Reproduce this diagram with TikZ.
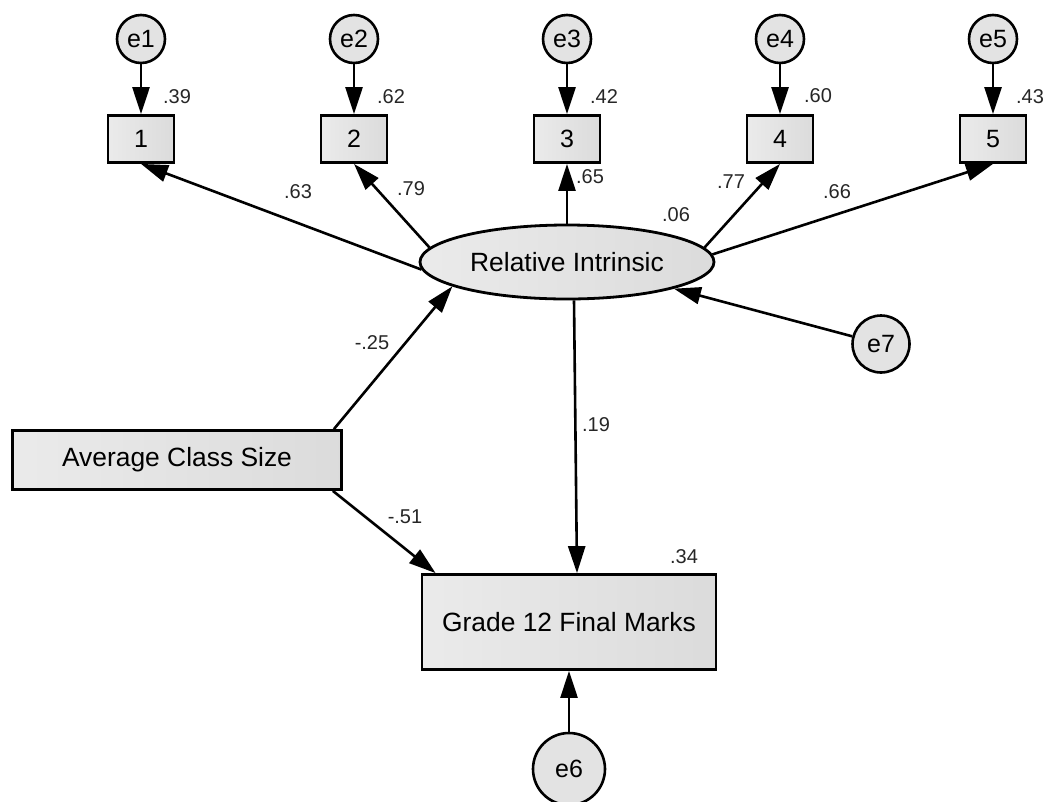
\documentclass[tikz,border=0pt]{standalone}
\usepackage{fontspec}
\setmainfont{Liberation Sans}
\usetikzlibrary{arrows.meta,shapes.geometric}

\begin{document}
\begin{tikzpicture}[x=1pt,y=-1pt,
  obs/.style={draw,line width=2.8pt,rectangle,inner sep=0pt,left color=black!8,right color=black!14,font=\fontsize{26.4}{30}\selectfont},
  lat/.style={draw,line width=2.8pt,ellipse,inner sep=0pt,left color=black!8,right color=black!14,minimum width=294pt,minimum height=74pt,font=\fontsize{26.4}{30}\selectfont},
  err/.style={draw,line width=2.6pt,circle,inner sep=0pt,fill=black!11,font=\fontsize{25}{30}\selectfont},
  coef/.style={inner sep=0pt,font=\fontsize{20}{24}\selectfont,text=black!85},
  arr/.style={-{Triangle[length=27pt,width=17pt]},line width=2.6pt}]
\useasboundingbox (0,0) rectangle (1048,801);
% indicators and their errors
\foreach \i/\x in {1/141,2/354,3/567,4/780,5/993}{
  \node[err,minimum size=48pt] (e\i) at (\x,39) {e\i};
  \node[obs,minimum width=66pt,minimum height=47pt,font=\fontsize{25}{30}\selectfont] (b\i) at (\x,139) {\i};
  \draw[arr] (e\i)--(b\i);
}
\node[coef] (r1) at (177,97) {.39};
\node[coef] (r2) at (391,97) {.62};
\node[coef] (r3) at (604,97) {.42};
\node[coef] (r4) at (818,96) {.60};
\node[coef] (r5) at (1030,97) {.43};
% latent factor
\node[lat] (ri) at (567,262) {Relative Intrinsic};
\node[err,minimum size=57pt] (e7) at (881,344) {e7};
\node[obs,minimum width=329pt,minimum height=59pt] (acs) at (177,460) {Average Class Size};
\node[obs,minimum width=294pt,minimum height=95pt] (gfm) at (569,622) {Grade 12 Final Marks};
\node[err,minimum size=72pt] (e6) at (569,769) {e6};
% loadings
\draw[arr] (ri.183)--(b1.south);
\draw[arr] (ri.174)--(b2.south);
\draw[arr] (ri.north)--(b3.south);
\draw[arr] (ri.6)--(b4.south);
\draw[arr] (ri.3)--(b5.south);
\node[coef] (l1) at (298,192) {.63};
\node[coef] (l2) at (411,189) {.79};
\node[coef] (l3) at (590,177) {.65};
\node[coef] (l4) at (731,182) {.77};
\node[coef] (l5) at (837,192) {.66};
\node[coef] (rri) at (676,215) {.06};
% structural paths
\draw[arr] (e7)--(ri.-14);
\draw[arr] ([xshift=-9pt]acs.north east)--(ri.192);
\draw[arr] ([xshift=-10pt]acs.south east)--([xshift=15pt]gfm.north west);
\draw[arr] ([xshift=7pt]ri.south)--([xshift=8pt]gfm.north);
\draw[arr] (e6)--(gfm.south);
\node[coef] (p1) at (372,343) {-.25};
\node[coef] (p2) at (596,425) {.19};
\node[coef] (p3) at (405,517) {-.51};
\node[coef] (rg) at (684,557) {.34};
\end{tikzpicture}
\end{document}
